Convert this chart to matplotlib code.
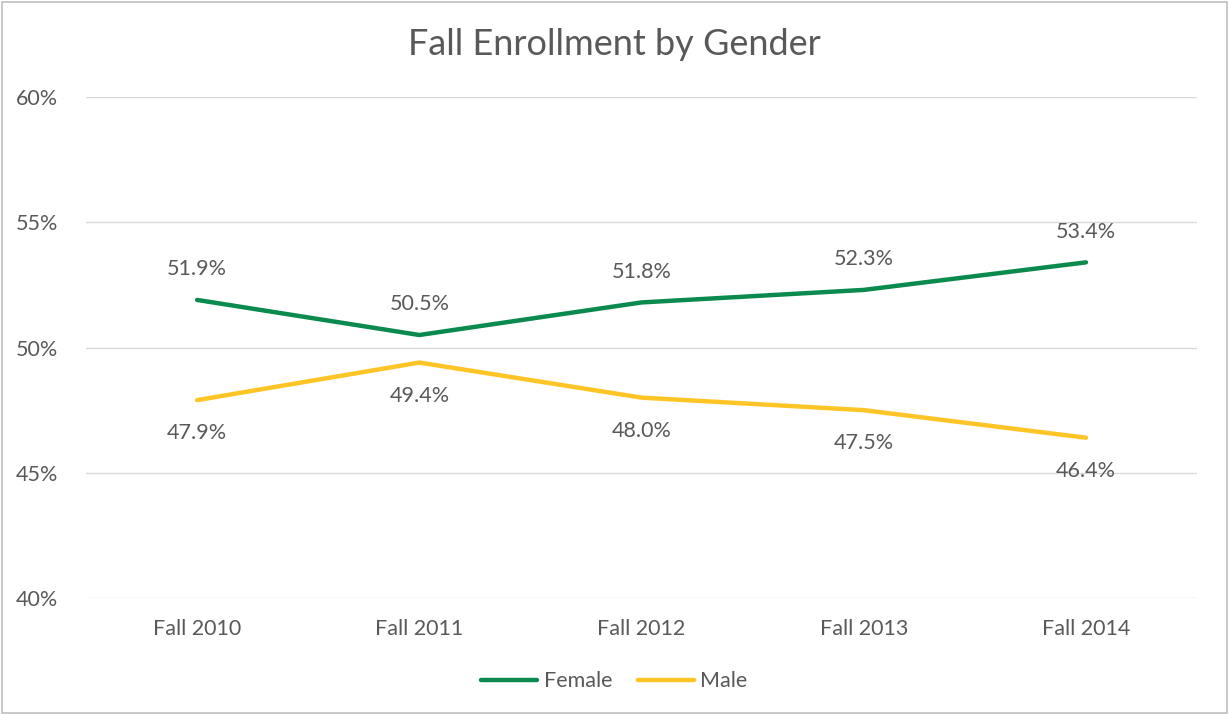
import numpy as np
import matplotlib.pyplot as plt
from matplotlib.patches import Rectangle

years = ["Fall 2010", "Fall 2011", "Fall 2012", "Fall 2013", "Fall 2014"]
female = [51.9, 50.5, 51.8, 52.3, 53.4]
male = [47.9, 49.4, 48.0, 47.5, 46.4]

plt.rcParams['font.family'] = ['Lato', 'DejaVu Sans']
grey = "#595959"

fig = plt.figure(figsize=(12.29, 7.15), dpi=100)
ax = fig.add_axes([0.070, 0.1636, 0.904, 0.7007])

x = np.arange(len(years))
ax.plot(x, female, color="#0A8A4F", lw=3.2, solid_capstyle="round", label="Female")
ax.plot(x, male, color="#FFC425", lw=3.2, solid_capstyle="round", label="Male")

for i in range(len(x)):
    ax.annotate(f"{female[i]:.1f}%", (x[i], female[i]), xytext=(0, 22), textcoords="offset points",
                ha="center", va="center", fontsize=15.5, color=grey)
    ax.annotate(f"{male[i]:.1f}%", (x[i], male[i]), xytext=(0, -24), textcoords="offset points",
                ha="center", va="center", fontsize=15.5, color=grey)

ax.set_xlim(-0.5, len(years) - 0.5)
ax.set_ylim(40, 60)
ax.set_yticks([40, 45, 50, 55, 60])
ax.set_yticklabels([f"{v}%" for v in [40, 45, 50, 55, 60]])
ax.set_xticks(x)
ax.set_xticklabels(years)
ax.tick_params(length=0, labelsize=15.5, colors=grey)
ax.tick_params(axis="y", pad=20)
ax.tick_params(axis="x", pad=15)
ax.grid(axis="y", color="#D9D9D9", lw=1)
ax.set_axisbelow(True)
for s in ax.spines.values():
    s.set_visible(False)

fig.text(0.5, 0.938, "Fall Enrollment by Gender", ha="center", va="center", fontsize=26, color=grey)
fig.legend(loc="center", bbox_to_anchor=(0.5, 0.047), ncol=2, frameon=False, fontsize=15.5,
           labelcolor=grey, handlelength=2.6, handletextpad=0.3, columnspacing=1.2)

fig.patches.append(Rectangle((0.002, 0.003), 0.996, 0.994, transform=fig.transFigure,
                             fill=False, edgecolor="#BFBFBF", lw=1.2))

fig.savefig("out.png", dpi=100)
